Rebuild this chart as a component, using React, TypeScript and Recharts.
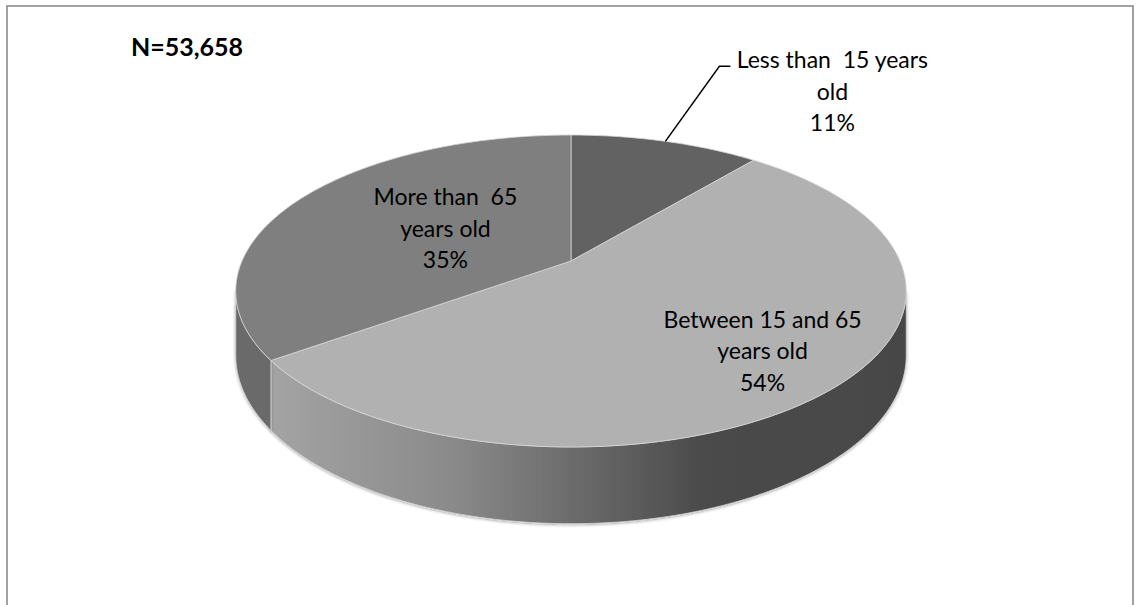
import React from 'react';
import { PieChart, Pie } from 'recharts';

// ---- data ----
const categories = ['Less than  15 years old', 'Between 15 and 65 years old', 'More than  65 years old'];
const labelLines = [
  ['Less than  15 years', 'old'],
  ['Between 15 and 65', 'years old'],
  ['More than  65', 'years old'],
];
const shares = [11, 54, 35];
const title = 'N=53,658';

const data = categories.map((name, i) => ({ name, value: shares[i] }));

// ---- styles / geometry ----
const W = 1136;
const H = 605;
const CX = 571;
const CY = 261;
const R = 329;
const KY = 0.4565; // vertical squash of the tilted disc
const PERSP = 0.1923; // perspective factor
const DEPTH = 62; // height of the disc wall
const FONT = 'Lato, "Open Sans", sans-serif';
const TOP_COLORS = ['#626262', '#b1b1b1', '#7f7f7f'];
const SIDE_COLORS = ['#4a4a4a', 'url(#sideGrad)', '#6b6b6b'];
const EDGE = '#d6d6d6';
// label placement: outside with leader, or inside at fraction of radius
const PLACEMENT: Array<{ outside?: boolean; f?: number }> = [{ outside: true }, { f: 0.76 }, { f: 0.445 }];
const LINE_GAP = 31.5;
const FONT_SIZE = 23;

const rad = (d: number) => (d * Math.PI) / 180;
const FRONT_START = (Math.acos(-PERSP) * 180) / Math.PI; // right silhouette
const FRONT_END = 360 - FRONT_START; // left silhouette

function project(cx: number, cy: number, r: number, theta: number, f = 1, drop = 0): [number, number] {
  const u = f * Math.sin(rad(theta));
  const v = f * Math.cos(rad(theta));
  const w = 1 + PERSP * v;
  return [cx + (r * u) / w, cy - (r * KY * v) / w + drop / w];
}

function arcPts(cx: number, cy: number, r: number, t0: number, t1: number, drop: number) {
  const n = Math.max(2, Math.ceil(Math.abs(t1 - t0)));
  const pts: Array<[number, number]> = [];
  for (let i = 0; i <= n; i++) {
    const t = t0 + ((t1 - t0) * i) / n;
    pts.push(project(cx, cy, r, t, 1, drop));
  }
  return pts;
}

const toPath = (pts: Array<[number, number]>) =>
  'M' + pts.map((p) => `${p[0].toFixed(2)},${p[1].toFixed(2)}`).join(' L') + ' Z';

const renderSlice = (props: any) => {
  const { cx, cy, outerRadius, startAngle, endAngle, index } = props;
  const t0 = 90 - startAngle;
  const t1 = 90 - endAngle;
  const c = project(cx, cy, outerRadius, 0, 0, 0);
  const top = [c, ...arcPts(cx, cy, outerRadius, t0, t1, 0)];
  const a = Math.max(t0, FRONT_START);
  const b = Math.min(t1, FRONT_END);
  let side: string | null = null;
  if (b > a) {
    const up = arcPts(cx, cy, outerRadius, a, b, 0);
    const down = arcPts(cx, cy, outerRadius, a, b, DEPTH).reverse();
    side = toPath([...up, ...down]);
  }
  return (
    <g key={`slice-${index}`}>
      {index === 0 && (
        <defs>
          <linearGradient id="sideGrad" gradientUnits="userSpaceOnUse" x1={cx - outerRadius} y1={0} x2={cx + outerRadius} y2={0}>
            <stop offset="0" stopColor="#a9a9a9" />
            <stop offset="0.06" stopColor="#a2a2a2" />
            <stop offset="0.32" stopColor="#8a8a8a" />
            <stop offset="0.5" stopColor="#6c6c6c" />
            <stop offset="0.7" stopColor="#4b4b4b" />
            <stop offset="1" stopColor="#474747" />
          </linearGradient>
          <filter id="softShadow" x="-10%" y="-10%" width="120%" height="130%">
            <feDropShadow dx="0" dy="1" stdDeviation="1.6" floodColor="#000" floodOpacity="0.35" />
          </filter>
        </defs>
      )}
      {side && <path d={side} fill={SIDE_COLORS[index]} stroke={EDGE} strokeWidth={0.8} filter="url(#softShadow)" />}
      <path d={toPath(top)} fill={TOP_COLORS[index]} stroke={EDGE} strokeWidth={0.8} strokeLinejoin="round" />
    </g>
  );
};

const renderText = (props: any) => {
  const { cx, cy, outerRadius, midAngle, index } = props;
  const t = 90 - midAngle;
  const lines = [...labelLines[index], `${shares[index]}%`];
  const place = PLACEMENT[index];
  const textStyle = { whiteSpace: 'pre' as const };
  if (place.outside) {
    const [px, py] = project(cx, cy, outerRadius, t, 1, 0);
    const ex = px + 54;
    const ey = py - 75;
    const tx = ex + 113;
    return (
      <g key={`label-${index}`}>
        <polyline points={`${px},${py} ${ex},${ey} ${ex + 11},${ey}`} fill="none" stroke="#000" strokeWidth={1.5} />
        {lines.map((ln, i) => (
          <text key={i} x={tx} y={ey + 2 + i * LINE_GAP} textAnchor="middle" fontFamily={FONT} fontSize={FONT_SIZE} fill="#000" style={textStyle}>
            {ln}
          </text>
        ))}
      </g>
    );
  }
  const [x, y] = project(cx, cy, outerRadius, t, place.f ?? 0.6, 0);
  return (
    <g key={`label-${index}`}>
      {lines.map((ln, i) => (
        <text key={i} x={x} y={y + 5 + (i - 1) * LINE_GAP} textAnchor="middle" fontFamily={FONT} fontSize={FONT_SIZE} fill="#000" style={textStyle}>
          {ln}
        </text>
      ))}
    </g>
  );
};

export default function App() {
  return (
    <div style={{ position: 'absolute', left: 0, top: 0, width: W, height: H, background: '#fff', overflow: 'hidden' }}>
      <svg width={W} height={H} style={{ position: 'absolute', left: 0, top: 0 }}>
        <rect x={7} y={6} width={1126} height={640} fill="#fff" stroke="#8a8a8a" strokeWidth={1.6} />
        <text x={187} y={56} textAnchor="middle" fontFamily={FONT} fontWeight="bold" fontSize={25} fill="#000">
          {title}
        </text>
      </svg>
      <div style={{ position: 'absolute', left: 0, top: 0 }}>
        <PieChart width={W} height={H} margin={{ top: 0, right: 0, bottom: 0, left: 0 }}>
          <Pie
            data={data}
            dataKey="value"
            nameKey="name"
            cx={CX}
            cy={CY}
            outerRadius={R}
            startAngle={90}
            endAngle={-270}
            fill="transparent"
            stroke="none"
            isAnimationActive={false}
            label={renderSlice}
            labelLine={false}
          />
          <Pie
            data={data}
            dataKey="value"
            nameKey="name"
            cx={CX}
            cy={CY}
            outerRadius={R}
            startAngle={90}
            endAngle={-270}
            fill="transparent"
            stroke="none"
            isAnimationActive={false}
            label={renderText}
            labelLine={false}
          />
        </PieChart>
      </div>
    </div>
  );
}
